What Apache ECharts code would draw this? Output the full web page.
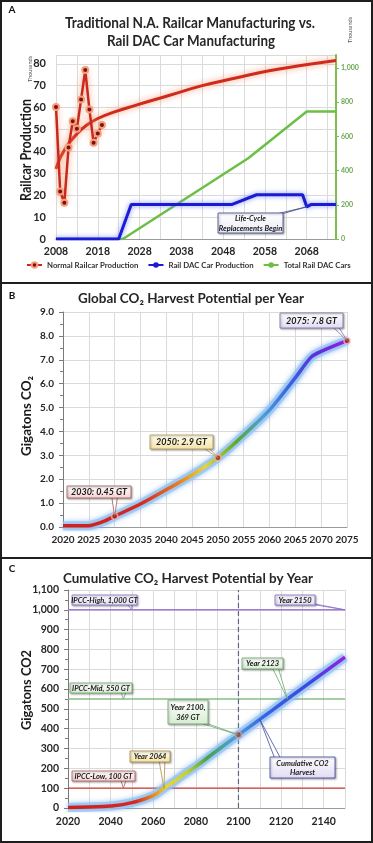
<!DOCTYPE html>
<html><head><meta charset="utf-8">
<script src="https://cdn.jsdelivr.net/npm/echarts@6/dist/echarts.min.js"></script>
<style>html,body{margin:0;padding:0;background:#fff}#c{width:373px;height:843px}</style>
</head><body><div id="c"></div>
<script>
// ---------- Panel A data ----------
const railYears = [2008,2009,2010,2011,2012,2013,2014,2015,2016,2017,2018,2019];
const railValues = [60.3,21.7,16.5,41.8,53.8,50.3,63.7,77.1,59.1,43.9,48.2,52.0];
const trendYears = [2008,2009,2010,2011,2013,2015,2018,2022,2027,2035,2043,2051,2059,2067,2075];
const trendValues = [32,37,40.5,43.5,48,51.5,55,58,61,65.5,70,73.5,76.8,79.3,81.5];
const dacProdYears = [2008,2023,2026,2050,2056,2067,2068,2069,2075];
const dacProdValues = [0,0,15.7,15.7,20.2,20.2,14.7,15.7,15.7];
const dacTotalYears = [2008,2024,2054,2068,2075];
const dacTotalValues = [0,0,472,745,745];
const legendNames = ['Normal Railcar Production','Rail DAC Car Production','Total Rail DAC Cars'];
// ---------- Panel B data ----------
const harvestYears = [2020,2025,2026,2028,2030,2035,2040,2045,2050,2055,2060,2065,2068,2070,2075];
const harvestValues = [0.05,0.05,0.1,0.25,0.45,0.96,1.56,2.18,2.9,3.85,4.9,6.25,7.1,7.35,7.8];
const harvestCalloutYears = [2030,2050,2075];
// ---------- Panel C data ----------
const cumYears = [2020,2030,2040,2050,2060,2065,2070,2075,2080,2090,2100,2110,2120,2130,2140,2150];
const cumValues = [3,5,10,27,62,100,135,174,210,290,369,447,526,605,683,761];
const ipccNames = ['IPCC-Low, 100 GT','IPCC-Mid, 550 GT','IPCC-High, 1,000 GT'];
const ipccValues = [100,550,1000];
const markerYear = 2100;

const FF = 'Lato, "Open Sans", sans-serif';
const zip = (xs, ys) => xs.map((x, i) => [x, ys[i]]);
const G = echarts.graphic;
const chart = echarts.init(document.getElementById('c'), null, {renderer: 'canvas'});

const gridLine = {show: true, lineStyle: {color: '#dadada', width: 1}};
const tickLbl = (size) => ({fontFamily: FF, fontWeight: 'bold', fontSize: size, color: '#262626'});
const thousands = v => String(v).replace(/\B(?=(\d{3})+(?!\d))/g, ',');

const harvestIdx = harvestCalloutYears.map(y => harvestYears.indexOf(y));
const markerIdx = cumYears.indexOf(markerYear);

const option = {
  animation: false,
  backgroundColor: '#fff',
  grid: [
    {left: 56, right: 37, top: 55, bottom: 604},
    {left: 63, right: 26, top: 312, bottom: 316},
    {left: 68, right: 28, top: 590, bottom: 35}
  ],
  legend: {
    data: legendNames, left: 26, top: 261, width: 346, padding: 0, itemGap: 9, itemWidth: 15, itemHeight: 7,
    textStyle: {fontFamily: FF, fontWeight: 'bold', fontSize: 7.8, color: '#333'}
  },
  xAxis: [
    {gridIndex: 0, type: 'value', min: 2008, max: 2075, interval: 5,
     axisLabel: Object.assign(tickLbl(10.5), {formatter: v => ((v - 2008) % 10 === 0 ? String(v) : ''), showMaxLabel: false, margin: 7}),
     axisLine: {lineStyle: {color: '#9a9a9a'}}, axisTick: {show: false}, splitLine: gridLine},
    {gridIndex: 1, type: 'value', min: 2020, max: 2075, interval: 5,
     axisLabel: Object.assign(tickLbl(10), {formatter: v => String(v), margin: 8}),
     axisLine: {lineStyle: {color: '#9a9a9a'}}, axisTick: {show: false}, splitLine: gridLine},
    {gridIndex: 2, type: 'value', min: 2020, max: 2150, interval: 10,
     axisLabel: Object.assign(tickLbl(10.5), {formatter: v => ((v - 2020) % 20 === 0 && v < 2150 ? String(v) : ''), margin: 8}),
     axisLine: {lineStyle: {color: '#9a9a9a'}}, axisTick: {show: false}, splitLine: gridLine}
  ],
  yAxis: [
    {gridIndex: 0, type: 'value', min: 0, max: 84, interval: 10,
     axisLabel: Object.assign(tickLbl(11), {showMaxLabel: false, margin: 10}),
     axisLine: {show: false}, axisTick: {show: false}, splitLine: gridLine},
    {gridIndex: 0, type: 'value', position: 'right', min: 0, max: 1075, interval: 200,
     axisLabel: {fontFamily: FF, fontWeight: 'bold', fontSize: 7, color: '#6aa84f', formatter: v => thousands(v), showMaxLabel: false, margin: 5},
     axisLine: {show: true, lineStyle: {color: '#7cbf4c', width: 2}},
     axisTick: {show: true, length: 3, lineStyle: {color: '#7cbf4c'}}, splitLine: {show: false}},
    {gridIndex: 1, type: 'value', min: 0, max: 9, interval: 1,
     axisLabel: Object.assign(tickLbl(10), {formatter: v => v.toFixed(1), margin: 9}),
     axisLine: {show: true, lineStyle: {color: '#7a7a7a'}},
     axisTick: {show: true, length: 4, lineStyle: {color: '#7a7a7a'}},
     minorTick: {show: true, splitNumber: 2, length: 3, lineStyle: {color: '#7a7a7a'}},
     splitLine: gridLine},
    {gridIndex: 2, type: 'value', min: 0, max: 1100, interval: 100,
     axisLabel: Object.assign(tickLbl(10.5), {formatter: v => thousands(v), margin: 9}),
     axisLine: {show: true, lineStyle: {color: '#7a7a7a'}},
     axisTick: {show: true, length: 4, lineStyle: {color: '#7a7a7a'}},
     minorTick: {show: true, splitNumber: 2, length: 3, lineStyle: {color: '#7a7a7a'}},
     splitLine: gridLine}
  ],
  series: [
    // 0 trend (panel A)
    {type: 'line', name: 'trend', xAxisIndex: 0, yAxisIndex: 0, data: zip(trendYears, trendValues),
     smooth: true, symbol: 'none', z: 3,
     lineStyle: {color: '#cf2a1b', width: 3, shadowColor: 'rgba(246,150,110,0.95)', shadowBlur: 6}},
    // 1 normal production
    {type: 'line', name: legendNames[0], xAxisIndex: 0, yAxisIndex: 0, data: zip(railYears, railValues),
     symbol: 'circle', symbolSize: 6, z: 4,
     lineStyle: {color: '#c8291c', width: 2.5, shadowColor: 'rgba(246,150,110,0.95)', shadowBlur: 6},
     itemStyle: {color: '#7d1010', borderColor: '#f3a07c', borderWidth: 2}},
    // 2 DAC production
    {type: 'line', name: legendNames[1], xAxisIndex: 0, yAxisIndex: 0, data: zip(dacProdYears, dacProdValues),
     symbol: 'none', z: 3,
     lineStyle: {color: '#1b1bd4', width: 3, shadowColor: 'rgba(110,130,250,0.9)', shadowBlur: 5},
     itemStyle: {color: '#1b1bd4'}},
    // 3 DAC total
    {type: 'line', name: legendNames[2], xAxisIndex: 0, yAxisIndex: 1, data: zip(dacTotalYears, dacTotalValues),
     symbol: 'none', z: 2,
     lineStyle: {color: '#6cbf45', width: 2.5},
     itemStyle: {color: '#6cbf45'}},
    // 4 harvest glow (panel B)
    {type: 'line', name: 'hglow', xAxisIndex: 1, yAxisIndex: 2, data: zip(harvestYears, harvestValues),
     smooth: 0.25, symbol: 'none', silent: true, z: 2,
     lineStyle: {color: 'rgba(150,195,240,0.75)', width: 9, shadowColor: 'rgba(110,170,240,0.9)', shadowBlur: 5}},
    // 5 harvest line
    {type: 'line', name: 'harvest', xAxisIndex: 1, yAxisIndex: 2, data: zip(harvestYears, harvestValues),
     smooth: 0.25, symbol: 'none', z: 3,
     lineStyle: {width: 3.5, color: new G.LinearGradient(0, 0, 1, 0, [
       {offset: 0, color: '#cf1f1f'}, {offset: 0.28, color: '#d42a22'}, {offset: 0.4, color: '#e8781e'},
       {offset: 0.5, color: '#e9d52e'}, {offset: 0.61, color: '#5aa82c'}, {offset: 0.7, color: '#4a9fd8'},
       {offset: 0.79, color: '#3a64e2'}, {offset: 0.88, color: '#5a30dc'}, {offset: 1, color: '#9b1fe0'}])}},
    // 6 harvest callout points
    {type: 'scatter', name: 'hpts', xAxisIndex: 1, yAxisIndex: 2,
     data: harvestIdx.map(i => [harvestYears[i], harvestValues[i]]), symbolSize: 6, z: 5,
     itemStyle: {color: '#a51d1d', borderColor: '#f2b8a8', borderWidth: 1.5}},
    // 7-9 IPCC lines (panel C)
    {type: 'line', name: ipccNames[0], xAxisIndex: 2, yAxisIndex: 3, symbol: 'none', z: 2,
     data: [[cumYears[0], ipccValues[0]], [cumYears[cumYears.length - 1], ipccValues[0]]],
     lineStyle: {color: '#d13a32', width: 1.3}},
    {type: 'line', name: ipccNames[1], xAxisIndex: 2, yAxisIndex: 3, symbol: 'none', z: 2,
     data: [[cumYears[0], ipccValues[1]], [cumYears[cumYears.length - 1], ipccValues[1]]],
     lineStyle: {color: '#86bd86', width: 1.6}},
    {type: 'line', name: ipccNames[2], xAxisIndex: 2, yAxisIndex: 3, symbol: 'none', z: 2,
     data: [[cumYears[0], ipccValues[2]], [cumYears[cumYears.length - 1], ipccValues[2]]],
     lineStyle: {color: '#9a7fd2', width: 1.6}},
    // 10 dashed marker year line
    {type: 'line', name: 'yr', xAxisIndex: 2, yAxisIndex: 3, symbol: 'none', z: 2,
     data: [[markerYear, 0], [markerYear, 1100]],
     lineStyle: {color: '#5f6480', width: 1.2, type: [5, 3]}},
    // 11 cumulative glow
    {type: 'line', name: 'cglow', xAxisIndex: 2, yAxisIndex: 3, data: zip(cumYears, cumValues),
     smooth: true, symbol: 'none', silent: true, z: 3,
     lineStyle: {color: 'rgba(150,195,240,0.75)', width: 9, shadowColor: 'rgba(110,170,240,0.9)', shadowBlur: 5}},
    // 12 cumulative line
    {type: 'line', name: 'cum', xAxisIndex: 2, yAxisIndex: 3, data: zip(cumYears, cumValues),
     smooth: true, symbol: 'none', z: 4,
     lineStyle: {width: 3.5, color: new G.LinearGradient(0, 0, 1, 0, [
       {offset: 0, color: '#cf1f1f'}, {offset: 0.25, color: '#d42a22'}, {offset: 0.3, color: '#e8781e'},
       {offset: 0.36, color: '#e9d52e'}, {offset: 0.43, color: '#c8d030'}, {offset: 0.5, color: '#4aa24a'},
       {offset: 0.6, color: '#4aa0d8'}, {offset: 0.7, color: '#3a64e2'}, {offset: 0.86, color: '#3a48e0'},
       {offset: 1, color: '#9b1fe0'}])}},
    // 13 marker point
    {type: 'scatter', name: 'cpt', xAxisIndex: 2, yAxisIndex: 3, z: 6,
     data: [[cumYears[markerIdx], cumValues[markerIdx]]], symbolSize: 6,
     itemStyle: {color: '#9a3a3a', borderColor: '#c9a0a0', borderWidth: 1.5}}
  ]
};
chart.setOption(option);

// ---------- graphics: frames, titles, labels, callouts ----------
const mctx = document.createElement('canvas').getContext('2d');
const fitScale = (text, font, target) => { mctx.font = font; return target / mctx.measureText(text).width; };
const els = [];
// text, optionally squeezed to a target width (reference font is narrower)
const txt = (x, y, text, font, fill, target, rotation) => {
  const el = {type: 'text', x: x, y: y, z: 50, silent: true,
    style: {text: text, font: font, fill: fill || '#111', textAlign: 'center', textVerticalAlign: 'middle'}};
  if (target) el.scaleX = fitScale(text, font, target);
  if (rotation) el.rotation = rotation;
  els.push(el);
};

// panel frames
[[1, 1, 371, 282], [1, 283, 371, 275], [1, 558, 371, 284]].forEach(r => els.push({
  type: 'rect', z: 60, silent: true, shape: {x: r[0], y: r[1], width: r[2], height: r[3]},
  style: {fill: null, stroke: '#1e1e1e', lineWidth: 2}
}));
// panel letters
txt(12, 10, 'A', 'bold 10px ' + FF, '#111');
txt(12, 296, 'B', 'bold 10px ' + FF, '#111');
txt(12, 569, 'C', 'bold 10px ' + FF, '#111');
// titles
const TF = 'bold 14.5px ' + FF;
txt(190, 23, 'Traditional N.A. Railcar Manufacturing vs.', TF, '#262626', 250);
txt(191, 41, 'Rail DAC Car Manufacturing', TF, '#262626', 168);
txt(191, 298, 'Global CO\u2082 Harvest Potential per Year', 'bold 14px ' + FF, '#262626', 226);
txt(188, 578, 'Cumulative CO\u2082 Harvest Potential by Year', 'bold 14px ' + FF, '#262626', 250);
// axis titles
const R90 = Math.PI / 2;
txt(26, 150, 'Railcar Production', 'bold 14.5px ' + FF, '#1a1a1a', 102, R90);
txt(30, 69, 'Thousands', '5.5px ' + FF, '#555', 0, R90);
txt(350, 30, 'Thousands', '5.5px ' + FF, '#555', 0, R90);
txt(27, 416, 'Gigatons CO\u2082', 'bold 13.5px ' + FF, '#1a1a1a', 80, R90);
txt(27, 690, 'Gigatons CO2', 'bold 13.5px ' + FF, '#1a1a1a', 80, R90);

function callout(seriesIndex, pt, box, text, fills, stroke, fontSize) {
  const a = chart.convertToPixel({seriesIndex: seriesIndex}, pt);
  const [bx, by, bw, bh] = box;
  const bcx = Math.min(Math.max(a[0], bx + 8), bx + bw - 8);
  const baseY = a[1] > by + bh ? by + bh - 2 : by + 2;
  els.push({type: 'polygon', z: 40, silent: true,
    shape: {points: [[bcx - 3, baseY], [bcx + 3, baseY], a]},
    style: {fill: '#ffffff', stroke: stroke, lineWidth: 0.8}});
  els.push({type: 'rect', z: 41, silent: true, shape: {x: bx, y: by, width: bw, height: bh},
    style: {fill: new G.LinearGradient(0, 0, 0, 1, [{offset: 0, color: fills[0]}, {offset: 1, color: fills[1]}]),
      stroke: stroke, lineWidth: 0.8, shadowBlur: 2, shadowOffsetX: 1, shadowOffsetY: 1, shadowColor: 'rgba(0,0,0,0.35)'}});
  els.push({type: 'text', z: 42, silent: true, x: bx + bw / 2, y: by + bh / 2 + 0.5,
    style: {text: text, font: 'italic bold ' + fontSize + 'px ' + FF, fill: '#1a1a1a',
      textAlign: 'center', textVerticalAlign: 'middle', lineHeight: fontSize + 2}});
}
const lavender = ['#ffffff', '#e2dbf3'], green = ['#ffffff', '#d8ecd3'], pink = ['#ffffff', '#f5d2d0'],
      yellow = ['#fffef2', '#f4e3a6'];
// Panel A
callout(2, [dacProdYears[6], dacProdValues[6]], [218, 213, 65, 20], 'Life-Cycle\nReplacements Begin', ['#ffffff', '#ebe8f6'], '#3d4a8a', 7.5);
// Panel B
const hb = [[67, 486, 64, 12], [150, 435, 63, 14], [280, 313, 63, 15]];
const hf = [pink, yellow, lavender];
const hs = ['#a05a5a', '#b09a58', '#7d6fa2'];
harvestIdx.forEach((i, k) => callout(6, [harvestYears[i], harvestValues[i]], hb[k],
  harvestYears[i] + ': ' + harvestValues[i] + ' GT', hf[k], hs[k], 9));
// Panel C
const lastYear = cumYears[cumYears.length - 1];
callout(9, [2050, ipccValues[2]], [72, 595, 65, 10], ipccNames[2], lavender, '#8a70c2', 7.5);
callout(9, [lastYear, ipccValues[2]], [275, 595, 40, 10], 'Year ' + lastYear, lavender, '#8a70c2', 7.5);
callout(8, [2123, ipccValues[1]], [242, 658, 41, 11], 'Year 2123', green, '#6aa86a', 7.5);
callout(8, [2046, ipccValues[1]], [70, 683, 62, 10], ipccNames[1], green, '#6aa86a', 7.5);
callout(13, [cumYears[markerIdx], cumValues[markerIdx]], [168, 700, 40, 24], 'Year ' + cumYears[markerIdx] + ',\n' + cumValues[markerIdx] + ' GT', green, '#6aa86a', 7.5);
callout(12, [cumYears[5], cumValues[5]], [130, 751, 40, 11], 'Year 2064', yellow, '#b08a40', 7.5);
callout(7, [2046, ipccValues[0]], [72, 771, 63, 10], ipccNames[0], pink, '#b06060', 7.5);
callout(12, [cumYears[11], cumValues[11]], [270, 757, 65, 21], 'Cumulative CO2\nHarvest', lavender, '#3e4aa0', 7.5);

chart.setOption({graphic: {elements: els}});
</script></body></html>
